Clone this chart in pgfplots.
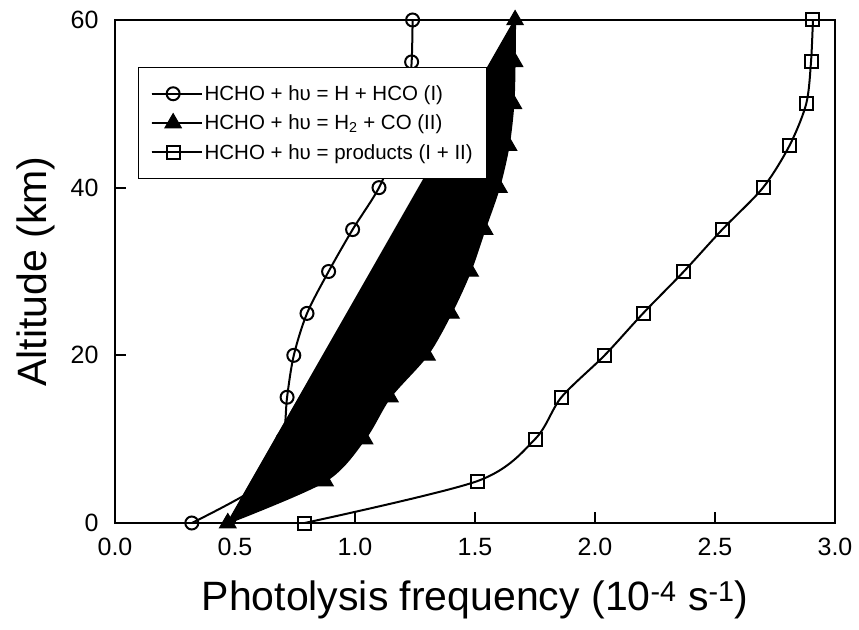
\documentclass[border=0pt]{standalone}
\usepackage{pgfplots}
\pgfplotsset{compat=1.18}
\usepackage{fontspec}
\setmainfont{Liberation Sans}
\begin{document}
\begin{tikzpicture}
\begin{axis}[name=ax,
  scale only axis, width=720pt, height=503pt,
  xmin=0, xmax=3, ymin=0, ymax=60,
  xtick={0,0.5,1,1.5,2,2.5,3}, ytick={0,20,40,60},
  xticklabel style={/pgf/number format/fixed, /pgf/number format/fixed zerofill, /pgf/number format/precision=1, yshift=-12pt},
  /pgf/number format/assume math mode=true,
  tick label style={font=\fontsize{25}{29}\selectfont},
  yticklabel style={xshift=-13pt},
  tick align=inside, xtick pos=bottom, ytick pos=left,
  major tick length=11pt,
  axis line style={line width=2pt},
  every tick/.style={black, line width=2pt},
  xlabel={Photolysis frequency (10\textsuperscript{-4} s\textsuperscript{-1})},
  ylabel={Altitude (km)},
  label style={font=\fontsize{41}{48}\selectfont},
  xlabel style={at={(axis description cs:0.5,-0.153)}, anchor=center},
  ylabel style={at={(axis description cs:-0.11,0.5)}, anchor=center},
  clip=false,
  legend style={at={(axis description cs:0.032,0.9066)}, anchor=north west,
    draw=black, line width=1.2pt, font=\fontsize{20.5}{24}\selectfont,
    inner xsep=12pt, inner ysep=16pt, row sep=9pt},
  legend cell align=left,
  legend image code/.code={\path (0pt,0pt) -- (50pt,0pt);\draw[mark repeat=2,mark phase=2,#1] plot coordinates {(0pt,0pt)(21.5pt,0pt)(43pt,0pt)};},
]
\addplot[black, line width=2pt, smooth, mark=o, mark size=6.5pt, mark options={solid, line width=2pt}]
  coordinates {(0.32,0)(0.63,5)(0.70,10)(0.717,15)(0.745,20)(0.80,25)(0.89,30)(0.99,35)(1.10,40)(1.17,45)(1.22,50)(1.236,55)(1.24,60)};
\addlegendentry{HCHO + hυ = H + HCO (I)}
\addplot[black, line width=2pt, smooth, fill=black, mark=triangle*, mark size=9.5pt, mark options={solid, fill=black, line width=1pt}]
  coordinates {(0.47,0)(0.875,5)(1.04,10)(1.146,15)(1.30,20)(1.40,25)(1.48,30)(1.54,35)(1.60,40)(1.64,45)(1.66,50)(1.665,55)(1.667,60)} -- cycle;
\addlegendentry{HCHO + hυ = H\textsubscript{2} + CO (II)}
\addplot[black, line width=2pt, smooth, mark=square, mark size=6.5pt, mark options={solid, line width=2pt}]
  coordinates {(0.79,0)(1.51,5)(1.75,10)(1.86,15)(2.04,20)(2.20,25)(2.37,30)(2.53,35)(2.70,40)(2.81,45)(2.88,50)(2.90,55)(2.908,60)};
\addlegendentry{HCHO + hυ = products (I + II)}
\end{axis}
\pgfresetboundingbox
\path[use as bounding box] ([shift={(-115pt,-106pt)}]ax.south west) rectangle ++(859pt,629pt);
\end{tikzpicture}
\end{document}
